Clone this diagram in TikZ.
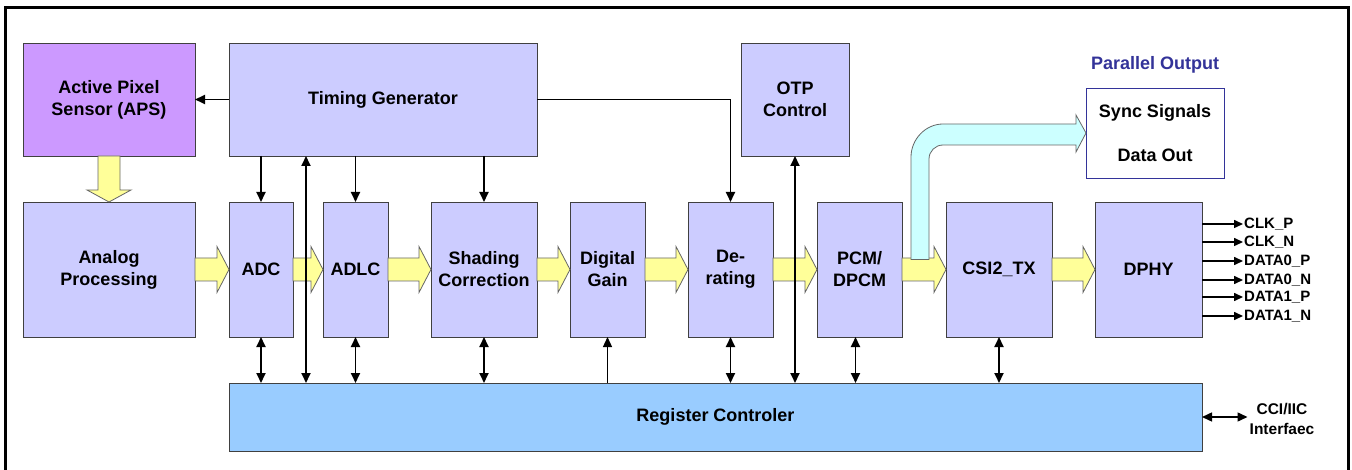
\documentclass[tikz,border=0pt]{standalone}
\usepackage{fontspec}
\setmainfont{Liberation Sans}
\usetikzlibrary{arrows.meta,calc}
\definecolor{lav}{HTML}{CCCCFF}
\definecolor{aps}{HTML}{CC99FF}
\definecolor{regc}{HTML}{99CCFF}
\definecolor{yel}{HTML}{FFFF99}
\definecolor{cyn}{HTML}{CCFFFF}
\definecolor{dblue}{HTML}{333399}
\newcommand{\fatarr}[2]{%
  \draw[fat] let \p1=(#1.east), \p2=(#2.west) in
    (\x1,\y1+11.5pt) -- (\x2-12pt,\y1+11.5pt) -- (\x2-12pt,\y1+23pt) -- (\x2,\y1)
    -- (\x2-12pt,\y1-23pt) -- (\x2-12pt,\y1-11.5pt) -- (\x1,\y1-11.5pt) -- cycle;}
\begin{document}
\begin{tikzpicture}[x=1pt,y=-1pt,
  box/.style={draw=black!75, line width=0.9pt, fill=lav, inner sep=0pt, outer sep=0pt,
    align=center, font=\bfseries\fontsize{18}{22}\selectfont},
  lbl/.style={inner sep=0pt, font=\bfseries\fontsize{15}{16}\selectfont},
  arr/.style={line width=1.8pt, -{Triangle[length=10pt,width=9pt]}},
  thinarr/.style={line width=1.2pt, -{Triangle[length=10pt,width=9pt]}},
  darr/.style={line width=1.8pt, {Triangle[length=10pt,width=9pt]}-{Triangle[length=10pt,width=9pt]}},
  fat/.style={draw=black!60, line width=0.8pt, fill=yel},
  cyanarr/.style={draw=black!60, line width=0.8pt, fill=cyn}]
\useasboundingbox (0,0) rectangle (1352,470);
\fill[white] (0,0) rectangle (1352,470);
\draw[line width=3pt] (5,472) -- (5,8) -- (1348,8) -- (1348,472);

% top row
\node[box, fill=aps, minimum width=172pt, minimum height=113pt] (aps) at (109,99.5) {Active Pixel\\Sensor (APS)};
\node[box, minimum width=308pt, minimum height=113pt] (tg) at (383,99.5) {Timing Generator};
\node[box, minimum width=108pt, minimum height=113pt] (otp) at (795,99.5) {OTP\\Control};
\node[box, fill=white, draw=dblue, minimum width=138pt, minimum height=90pt] (par) at (1155,133) {Sync Signals\\[22pt]Data Out};
\node[font=\bfseries\fontsize{18}{22}\selectfont, text=dblue] (partitle) at (1155,65) {Parallel Output};

% middle row
\node[box, minimum width=172pt, minimum height=135pt] (ana) at (109,269.5) {Analog\\Processing};
\node[box, minimum width=64pt, minimum height=135pt] (adc) at (261,269.5) {ADC};
\node[box, minimum width=65pt, minimum height=135pt] (adlc) at (355.5,269.5) {ADLC};
\node[box, minimum width=106pt, minimum height=135pt] (shd) at (484,269.5) {Shading\\Correction};
\node[box, minimum width=75pt, minimum height=135pt] (dg) at (607.5,269.5) {Digital\\Gain};
\node[box, minimum width=85pt, minimum height=135pt] (der) at (730.5,269.5) {De-\\rating};
\node[box, minimum width=85pt, minimum height=135pt] (pcm) at (859.5,269.5) {PCM/\\DPCM};
\node[box, minimum width=106pt, minimum height=135pt] (csi) at (999,269.5) {CSI2\_TX};
\node[box, minimum width=107pt, minimum height=135pt] (dphy) at (1148.5,269.5) {DPHY};

% register
\node[box, fill=regc, minimum width=973pt, minimum height=68pt] (reg) at (715.5,417) {Register Controler};

% fat yellow arrows
\draw[fat] let \p1=(aps.south), \p2=(ana.north) in
  (\x1-11pt,\y1) -- (\x1-11pt,\y2+12pt) -- (\x1-22pt,\y2+12pt) -- (\x1,\y2)
  -- (\x1+22pt,\y2+12pt) -- (\x1+11pt,\y2+12pt) -- (\x1+11pt,\y1) -- cycle;
\fatarr{ana}{adc}
\fatarr{adc}{adlc}
\fatarr{adlc}{shd}
\fatarr{shd}{dg}
\fatarr{dg}{der}
\fatarr{der}{pcm}
\fatarr{pcm}{csi}
\fatarr{csi}{dphy}

% cyan parallel output arrow
\draw[cyanarr] (911,259.5) -- (911,157) .. controls (911,139.4) and (925.4,124) .. (943,124)
  -- (1076,124) -- (1076,115) -- (par.west) -- (1076,152) -- (1076,145)
  -- (943,145) .. controls (935.3,145) and (929,151.3) .. (929,159) -- (929,259.5) -- cycle;

% control connectors
\draw[arr] (tg.west) -- (aps.east);
\draw[arr] (tg.south -| adc) -- (adc.north);
\draw[arr] (tg.south -| adlc) -- (adlc.north);
\draw[arr] (tg.south -| shd) -- (shd.north);
\draw[arr] (tg.east) -| (der.north);
\coordinate (vx) at (306,0);
\draw[darr] (vx |- reg.north) -- (vx |- tg.south);
\draw[darr] (otp.south |- reg.north) -- (otp.south);

\draw[darr] (adc.south) -- (adc.south |- reg.north);
\draw[darr] (adlc.south) -- (adlc.south |- reg.north);
\draw[darr] (shd.south) -- (shd.south |- reg.north);
\draw[thinarr] (dg.south |- reg.north) -- (dg.south);
\draw[darr] (der.south) -- (der.south |- reg.north);
\draw[darr] ([xshift=-4pt]pcm.south) -- ([xshift=-4pt]pcm.south |- reg.north);
\draw[darr] (csi.south) -- (csi.south |- reg.north);

% DPHY outputs
\node[lbl, anchor=west] (o1) at (1244,224) {CLK\_P};
\node[lbl, anchor=west] (o2) at (1244,242) {CLK\_N};
\node[lbl, anchor=west] (o3) at (1244,261) {DATA0\_P};
\node[lbl, anchor=west] (o4) at (1244,280) {DATA0\_N};
\node[lbl, anchor=west] (o5) at (1244,297) {DATA1\_P};
\node[lbl, anchor=west] (o6) at (1244,316) {DATA1\_N};
\foreach \o in {o1,o2,o3,o4,o5,o6}
  \draw[line width=1.5pt, -{Triangle[length=9pt,width=8pt]}] (\o.west -| dphy.east) -- ([xshift=-1pt]\o.west);

% CCI interface
\node[lbl, align=center, font=\bfseries\fontsize{15.5}{20}\selectfont] (cci) at (1282,419) {CCI/IIC\\Interfaec};
\draw[darr, line width=1.5pt] (reg.east) -- ([xshift=-2pt]cci.west |- reg.east);
\end{tikzpicture}
\end{document}
